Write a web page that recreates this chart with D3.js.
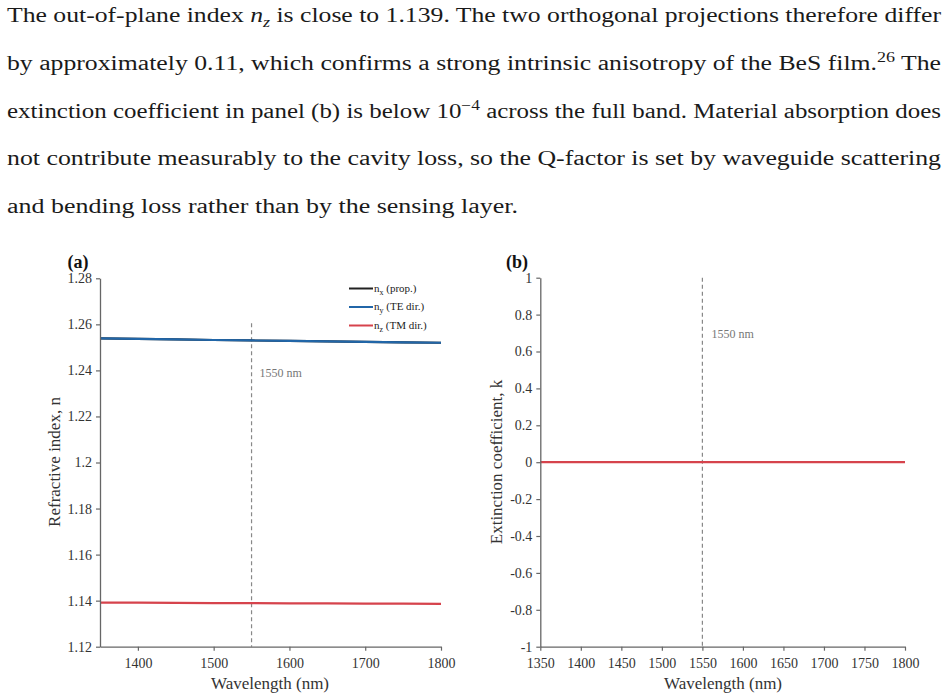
<!DOCTYPE html>
<html>
<head>
<meta charset="utf-8">
<script src="https://cdn.jsdelivr.net/npm/d3@7"></script>
<style>
  body { margin: 0; background: #fff; }
  svg text { font-family: "Liberation Serif", "Times New Roman", serif; }
</style>
</head>
<body>
<svg id="fig" width="948" height="700"></svg>
<script>
// ---- data ----
const wavelength = [1350, 1400, 1450, 1500, 1550, 1600, 1650, 1700, 1750, 1800];
const nx = [1.2539, 1.2537, 1.2535, 1.2532, 1.2530, 1.2528, 1.2526, 1.2524, 1.2522, 1.2520];
const ny = [1.2539, 1.2537, 1.2535, 1.2532, 1.2530, 1.2528, 1.2526, 1.2524, 1.2522, 1.2520];
const nz = [1.1391, 1.1391, 1.1390, 1.1389, 1.1389, 1.1388, 1.1388, 1.1387, 1.1387, 1.1386];
const kval = [0.00005, 0.00005, 0.00005, 0.00005, 0.00005, 0.00005, 0.00005, 0.00005, 0.00005, 0.00005];
const nTicks = [1.12, 1.14, 1.16, 1.18, 1.2, 1.22, 1.24, 1.26, 1.28];
const kTicks = [-1, -0.8, -0.6, -0.4, -0.2, 0, 0.2, 0.4, 0.6, 0.8, 1];
const wlTicksA = [1400, 1500, 1600, 1700, 1800];
const wlTicksB = [1350, 1400, 1450, 1500, 1550, 1600, 1650, 1700, 1750, 1800];
const markerWl = 1550;
const seriesNames = ["x (prop.)", "y (TE dir.)", "z (TM dir.)"];
const seriesColors = ["#222222", "#2166a8", "#d6434c"];

const paragraph = [
  [["The out-of-plane index ", ""], ["n", "it"], ["z", "sub"], [" is close to 1.139. The two orthogonal projections therefore differ", ""]],
  [["by approximately 0.11, which confirms a strong intrinsic anisotropy of the BeS film.", ""], ["26", "sup"], [" The", ""]],
  [["extinction coefficient in panel (b) is below 10", ""], ["\u22124", "sup"], [" across the full band. Material absorption does", ""]],
  [["not contribute measurably to the cavity loss, so the Q-factor is set by waveguide scattering", ""]],
  [["and bending loss rather than by the sensing layer.", ""]]
];
const paraWidths = [934, 934, 934, 934, 511];

const svg = d3.select("#fig");

// ---- paragraph text ----
paragraph.forEach((line, i) => {
  const t = svg.append("text")
    .attr("x", 7)
    .attr("y", 22 + i * 47.8)
    .attr("font-size", 20)
    .attr("fill", "#1a1a1a")
    .attr("textLength", paraWidths[i])
    .attr("lengthAdjust", "spacingAndGlyphs");
  let shift = 0;
  line.forEach(([str, kind]) => {
    let dy = 0;
    let size = null;
    if (kind == "sub") { dy = 5 - shift; shift = 5; size = 14; }
    else if (kind == "sup") { dy = -8 - shift; shift = -8; size = 14; }
    else { dy = -shift; shift = 0; }
    const s = t.append("tspan").attr("dy", dy).text(str);
    if (size) s.attr("font-size", size);
    if (kind == "it" || kind == "sub") s.attr("font-style", "italic");
  });
});

// ---- helper to style an axis ----
function styleAxis(sel) {
  sel.attr("font-family", null).attr("font-size", null);
  sel.select(".domain").attr("stroke", "#666").attr("stroke-width", 1.3);
  sel.selectAll(".tick line").attr("stroke", "#666").attr("stroke-width", 1.2);
  sel.selectAll(".tick text")
    .attr("fill", "#333")
    .style("font-family", "'Liberation Serif', serif")
    .style("font-size", "14px");
}

// ==== panel (a) ====
const xa = d3.scaleLinear().domain([1350, 1800]).range([100, 441]);
const ya = d3.scaleLinear().domain([1.12, 1.28]).range([646.7, 278.3]);

const ga = svg.append("g");

ga.append("line")
  .attr("x1", xa(markerWl)).attr("x2", xa(markerWl))
  .attr("y1", ya(1.2605)).attr("y2", ya(1.12))
  .attr("stroke", "#888").attr("stroke-width", 1.2)
  .attr("stroke-dasharray", "4,3");

ga.append("text")
  .attr("x", xa(markerWl) + 8).attr("y", 377)
  .attr("font-size", 12).attr("fill", "#777")
  .text("1550 nm");

const lineA = (vals) => d3.line()
  .x((d, i) => xa(wavelength[i]))
  .y((d) => ya(d))(vals);

[nx, ny, nz].forEach((vals, i) => {
  ga.append("path")
    .attr("d", lineA(vals))
    .attr("fill", "none")
    .attr("stroke", seriesColors[i])
    .attr("stroke-width", 2.2);
});

ga.append("g")
  .attr("transform", `translate(0,${ya(1.12)})`)
  .call(d3.axisBottom(xa).tickValues(wlTicksA).tickSize(4).tickSizeOuter(0).tickPadding(7).tickFormat(d3.format("d")))
  .call(styleAxis);

ga.append("g")
  .attr("transform", `translate(${xa(1350)},0)`)
  .call(d3.axisLeft(ya).tickValues(nTicks).tickSize(4).tickSizeOuter(0).tickPadding(4).tickFormat(d => String(+d.toFixed(2))))
  .call(styleAxis);

// legend
const leg = ga.append("g");
seriesNames.forEach((name, i) => {
  const yy = 288.5 + i * 18.5;
  leg.append("line")
    .attr("x1", 349).attr("x2", 373)
    .attr("y1", yy).attr("y2", yy)
    .attr("stroke", seriesColors[i]).attr("stroke-width", 2);
  const t = leg.append("text")
    .attr("x", 374).attr("y", yy + 3)
    .attr("font-size", 11).attr("fill", "#222");
  t.append("tspan").text("n");
  t.append("tspan").attr("dy", 3).attr("font-size", 8).text(name[0]);
  t.append("tspan").attr("dy", -3).text(name.slice(1));
});

ga.append("text")
  .attr("x", 78).attr("y", 268)
  .attr("text-anchor", "middle")
  .attr("font-size", 18).attr("font-weight", "bold").attr("fill", "#111")
  .text("(a)");

ga.append("text")
  .attr("x", 270).attr("y", 689)
  .attr("text-anchor", "middle")
  .attr("font-size", 17).attr("fill", "#333")
  .text("Wavelength (nm)");

ga.append("text")
  .attr("transform", "translate(60,462) rotate(-90)")
  .attr("text-anchor", "middle")
  .attr("font-size", 17).attr("fill", "#333")
  .text("Refractive index, n");

// ==== panel (b) ====
const xb = d3.scaleLinear().domain([1350, 1800]).range([540.3, 905]);
const yb = d3.scaleLinear().domain([-1, 1]).range([646.7, 277.7]);

const gb = svg.append("g");

gb.append("line")
  .attr("x1", xb(markerWl)).attr("x2", xb(markerWl))
  .attr("y1", yb(1)).attr("y2", yb(-1))
  .attr("stroke", "#888").attr("stroke-width", 1.2)
  .attr("stroke-dasharray", "4,3");

gb.append("text")
  .attr("x", xb(markerWl) + 9).attr("y", 338)
  .attr("font-size", 12).attr("fill", "#777")
  .text("1550 nm");

gb.append("path")
  .attr("d", d3.line().x((d, i) => xb(wavelength[i])).y(d => yb(d))(kval))
  .attr("fill", "none")
  .attr("stroke", seriesColors[2])
  .attr("stroke-width", 2.2);

gb.append("g")
  .attr("transform", `translate(0,${yb(-1)})`)
  .call(d3.axisBottom(xb).tickValues(wlTicksB).tickSize(4).tickSizeOuter(0).tickPadding(7).tickFormat(d3.format("d")))
  .call(styleAxis);

gb.append("g")
  .attr("transform", `translate(${xb(1350)},0)`)
  .call(d3.axisLeft(yb).tickValues(kTicks).tickSize(4).tickSizeOuter(0).tickPadding(4).tickFormat(d => String(+d.toFixed(1))))
  .call(styleAxis);

gb.append("text")
  .attr("x", 517).attr("y", 268)
  .attr("text-anchor", "middle")
  .attr("font-size", 18).attr("font-weight", "bold").attr("fill", "#111")
  .text("(b)");

gb.append("text")
  .attr("x", 723).attr("y", 689)
  .attr("text-anchor", "middle")
  .attr("font-size", 17).attr("fill", "#333")
  .text("Wavelength (nm)");

gb.append("text")
  .attr("transform", "translate(502,462) rotate(-90)")
  .attr("text-anchor", "middle")
  .attr("font-size", 17).attr("fill", "#333")
  .text("Extinction coefficient, k");
</script>
</body>
</html>
